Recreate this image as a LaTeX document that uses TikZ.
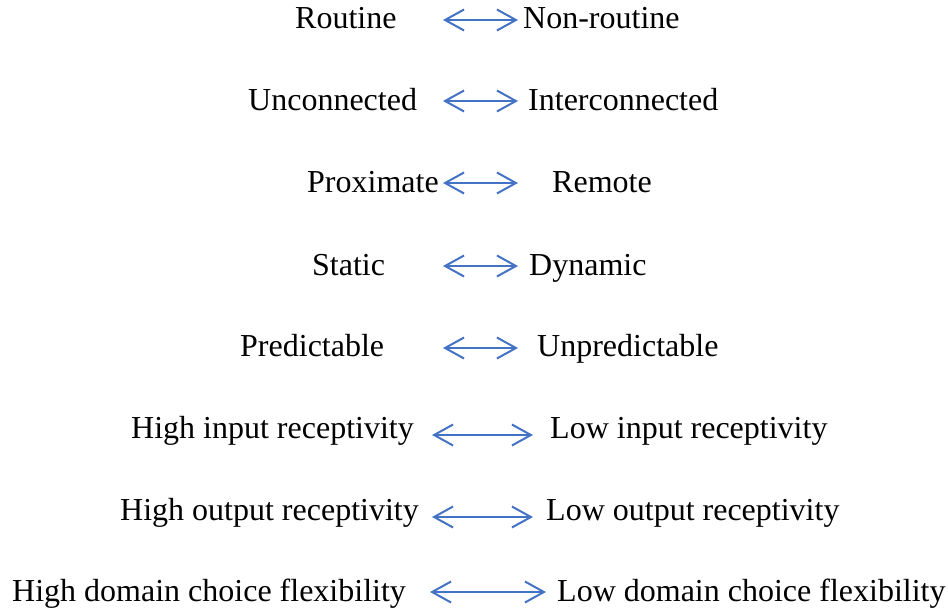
\documentclass[tikz,border=0pt]{standalone}
\usepackage{fontspec}
\setmainfont{Liberation Serif}
\usetikzlibrary{arrows.meta}
\definecolor{arrowblue}{RGB}{68,114,196}
\tikzset{
  lbl/.style={anchor=base west, inner sep=0pt, font=\fontsize{32}{38}\selectfont},
  dblarrow/.style={draw=arrowblue, line width=2pt, {Straight Barb[length=19pt,width=21pt]}-{Straight Barb[length=19pt,width=21pt]}}
}
\begin{document}
\begin{tikzpicture}[x=1pt,y=-1pt]
\useasboundingbox (0,0) rectangle (948,608);
% row 1
\node[lbl] (l1) at (295,28) {Routine};
\node[lbl] (r1) at (523,28) {Non-routine};
\coordinate (a1l) at (443,20); \coordinate (a1r) at (518,20);
\draw[dblarrow] (a1l) -- (a1r);
% row 2
\node[lbl] (l2) at (248,110) {Unconnected};
\node[lbl] (r2) at (528,110) {Interconnected};
\coordinate (a2l) at (443,101); \coordinate (a2r) at (518,101);
\draw[dblarrow] (a2l) -- (a2r);
% row 3
\node[lbl] (l3) at (307,192) {Proximate};
\node[lbl] (r3) at (552,192) {Remote};
\coordinate (a3l) at (443,183); \coordinate (a3r) at (518,183);
\draw[dblarrow] (a3l) -- (a3r);
% row 4
\node[lbl] (l4) at (312,275) {Static};
\node[lbl] (r4) at (529,275) {Dynamic};
\coordinate (a4l) at (443,266); \coordinate (a4r) at (518,266);
\draw[dblarrow] (a4l) -- (a4r);
% row 5
\node[lbl] (l5) at (240,356) {Predictable};
\node[lbl] (r5) at (537,356) {Unpredictable};
\coordinate (a5l) at (443,348); \coordinate (a5r) at (518,348);
\draw[dblarrow] (a5l) -- (a5r);
% row 6
\node[lbl] (l6) at (131,438) {High input receptivity};
\node[lbl] (r6) at (550,438) {Low input receptivity};
\coordinate (a6l) at (432,435); \coordinate (a6r) at (533,435);
\draw[dblarrow] (a6l) -- (a6r);
% row 7
\node[lbl] (l7) at (120,520) {High output receptivity};
\node[lbl] (r7) at (546,520) {Low output receptivity};
\coordinate (a7l) at (432,517); \coordinate (a7r) at (533,517);
\draw[dblarrow] (a7l) -- (a7r);
% row 8
\node[lbl] (l8) at (12,601) {High domain choice flexibility};
\node[lbl] (r8) at (557,601) {Low domain choice flexibility};
\coordinate (a8l) at (430,592); \coordinate (a8r) at (546,592);
\draw[dblarrow] (a8l) -- (a8r);
\end{tikzpicture}
\end{document}
